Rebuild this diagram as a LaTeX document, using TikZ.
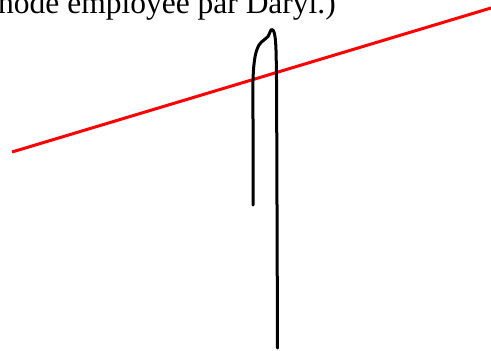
\documentclass[tikz,border=0pt]{standalone}
\usepackage{fontspec}
\setmainfont{Liberation Serif}
\begin{document}
\begin{tikzpicture}[x=1pt,y=-1pt,
  redline/.style={draw=red,line width=3pt},
  penline/.style={draw=black,line width=3pt,line cap=round,line join=round},
  caption/.style={inner sep=0pt,anchor=base west,font=\fontsize{31.5}{36}\selectfont}]
\useasboundingbox (0,0) rectangle (491,351);
\node[caption] (txt) at (-2,13) {hode employée par Daryl.)};
\coordinate (r1) at (12,152);
\coordinate (r2) at (493,7.4);
\draw[redline] (r1) -- (r2);
\draw[penline] plot[smooth,tension=0.6] coordinates {(253,205) (253,120) (253,80) (255,57) (259,45) (264,40) (268,36.5) (271.5,29.5) (274.5,34) (276,50) (276.6,90)} -- (277.5,348);
\end{tikzpicture}
\end{document}
